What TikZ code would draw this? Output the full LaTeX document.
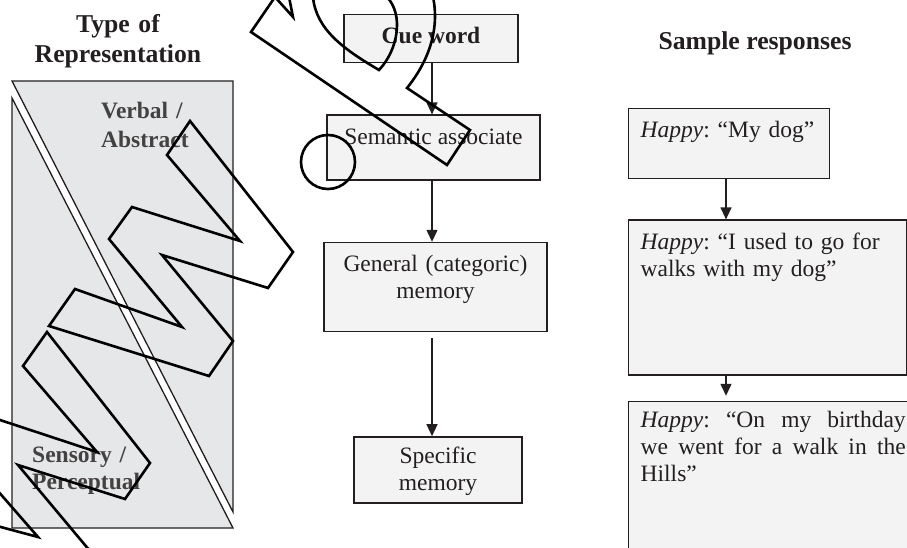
\documentclass[tikz,border=0pt]{standalone}
\usepackage{fontspec}
\setmainfont{Liberation Serif}
\usetikzlibrary{positioning, arrows.meta, calc}
\definecolor{ink}{HTML}{231F20}
\definecolor{boxgray}{HTML}{F3F3F3}
\definecolor{panelgray}{HTML}{E6E7E8}
\newcommand{\boxfont}{\fontsize{23.5}{27}\selectfont}
\newcommand{\headfont}{\fontsize{25.7}{30}\selectfont\bfseries}
\frenchspacing

\begin{document}
\begin{tikzpicture}[x=1pt,y=-1pt,
    box/.style={draw=ink, line width=1.4pt, fill=boxgray, anchor=north, inner sep=0pt,
        align=center, text=ink, font=\boxfont},
    resp/.style={box, anchor=north west, inner xsep=12pt, align=left},
    side/.style={anchor=north west, inner sep=0pt, text width=130pt, align=left,
        text height=18pt, text=ink!85, font=\fontsize{23.5}{29}\selectfont\bfseries},
    arr/.style={draw=ink, line width=1.3pt, -{Triangle[length=12pt,width=11pt]}},
    scrib/.style={line width=2.6pt, line join=miter}]
    \useasboundingbox (0,0) rectangle (907,548);

    \path[draw=ink, fill=panelgray, line width=1.3pt] (12,81) -- (233,81) -- (233,512) -- cycle;
    \path[draw=ink, fill=panelgray, line width=1.3pt] (12,98) -- (233,528) -- (12,528) -- cycle;

    \node[anchor=north, inner sep=0pt, text width=220pt, align=center, text height=20pt,
        text=ink, font=\headfont] (type) at (118,12) {Type of\\Representation};
    \node[anchor=base, inner sep=0pt, text=ink, font=\headfont] (sample) at (755,50) {Sample responses};
    \node[side] (verbal) at (101,100) {Verbal /\\Abstract};
    \node[side, font=\fontsize{23.5}{27}\selectfont\bfseries] (sensory) at (32,444) {Sensory /\\Perceptual};

    \node[box, minimum width=174pt, text height=29pt, text depth=19pt, font=\boxfont\bfseries]
        (cue) at (431,14) {Cue word};
    \node[box, minimum width=213pt, text height=29pt, text depth=36pt] (sem)
        [below=51pt of cue, xshift=2.5pt] {Semantic associate};
    \node[box, text width=223pt, text height=29pt, text depth=60pt] (gen)
        [below=61pt of sem, xshift=2pt] {General (categoric)\\memory};
    \node[box, text width=168pt, text height=27pt, text depth=39pt] (spec)
        [below=104pt of gen, xshift=2.5pt] {Specific\\memory};

    \node[resp, text width=177pt, text height=29pt, text depth=41pt] (r1) at (628,108)
        {\textit{Happy}: “My dog”};
    \node[resp, text width=254pt, text height=29pt, text depth=126pt] (r2)
        [below=40pt of r1.south west, anchor=north west]
        {\textit{Happy}: “I used to go for walks with my dog”};
    \node[resp, text width=265pt, text height=26pt, text depth=200pt, align=justify] (r3)
        [below=25pt of r2.south west, anchor=north west]
        {\textit{Happy}: “On my birthday\linebreak we went for a walk in the\linebreak Hills”};

    \coordinate (mid) at (432,0);
    \coordinate (rc) at (726,0);
    \draw[arr] (cue.south -| mid) -- (sem.north -| mid);
    \draw[arr] (sem.south -| mid) -- (gen.north -| mid);
    \draw[arr, shorten <=6pt] (gen.south -| mid) -- (spec.north -| mid);
    \draw[arr] (r1.south -| rc) -- (r2.north -| rc);
    \draw[arr, shorten >=5pt] (r2.south -| rc) -- (r3.north -| rc);

    \draw[scrib] (75,289) -- (49,326) -- (209,376) -- (233,341) -- (162,255) -- (268,288)
        -- (293,252) -- (190,121) -- (167,155) -- (240,241) -- (132,207) -- (109,239)
        -- (182,327) -- cycle;
    \draw[scrib] (-3,419) -- (97,452) -- (23,366) -- (47,332) -- (150,463) -- (125,499)
        -- (18,465) -- (90,551);
    \draw[scrib] (-3,490) -- (38,537) -- (-3,526);
    \draw[scrib] (275,-3) -- (251,32) -- (447,165) -- (470,130) -- (407,88)
        .. controls (428,62) and (440,30) .. (433,-3);
    \draw[scrib] (275,-3) -- (293,17) -- (289,-3);
    \draw[scrib] (313,-3) .. controls (316,30) and (345,50) .. (379,70)
        .. controls (398,50) and (404,15) .. (387,-3);
    \draw[scrib] (328,162) circle (27);
\end{tikzpicture}
\end{document}
